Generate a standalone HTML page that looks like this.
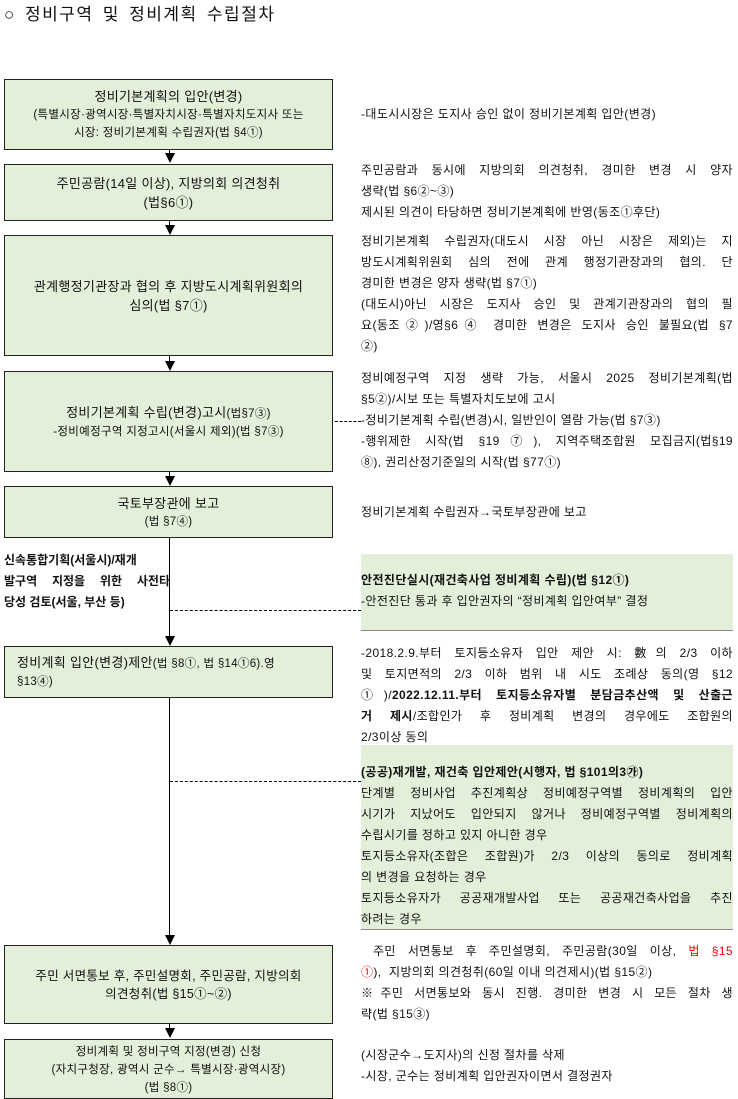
<!DOCTYPE html>
<html><head><meta charset="utf-8"><style>
body{margin:0;width:738px;height:1087px;background:#fff;position:relative;overflow:hidden;font-family:"Liberation Sans","Noto Sans CJK KR","NanumGothic",sans-serif;color:#111}
.b{position:absolute;left:4px;width:329px;background:#e3efd9;border:1.5px solid #222;display:flex;flex-direction:column;justify-content:center;align-items:center;text-align:center;font-size:13px;line-height:19px;box-sizing:border-box;letter-spacing:0.3px}
.s{font-size:11.5px;line-height:18px}
.r{position:absolute;left:361px;width:372px;font-size:12px;line-height:21px;letter-spacing:0.4px}
.r div{white-space:nowrap}
.r div.j{text-align:justify;text-align-last:justify}
.g{position:absolute;left:361px;width:372px;background:#e3efd9;border-bottom:1px solid #888}
.v{position:absolute;left:169px;width:1.3px;background:#000}
.a{position:absolute;width:0;height:0;border-left:5px solid transparent;border-right:5px solid transparent;border-top:10px solid #000;left:165px}
.d{position:absolute;border-top:1px dashed #000;height:0}
</style></head><body>
<div style="position:absolute;left:4px;top:2px;font-size:17px;line-height:26px;letter-spacing:1.5px;word-spacing:3px">○ 정비구역 및 정비계획 수립절차</div>

<div class="b" style="top:79px;height:71px"><div>정비기본계획의 입안(변경)</div><div class="s">(특별시장·광역시장·특별자치시장·특별자치도지사 또는<br>시장: 정비기본계획 수립권자(법 §4①)</div></div>
<div class="v" style="top:150px;height:6px"></div><div class="a" style="top:153px"></div>
<div class="b" style="top:164px;height:57px"><div>주민공람(14일 이상), 지방의회 의견청취<br>(법§6①)</div></div>
<div class="v" style="top:221px;height:6px"></div><div class="a" style="top:225px"></div>
<div class="b" style="top:235px;height:121px"><div>관계행정기관장과 협의 후 지방도시계획위원회의<br>심의(법 §7①)</div></div>
<div class="v" style="top:356px;height:6px"></div><div class="a" style="top:361px"></div>
<div class="b" style="top:371px;height:101px"><div>정비기본계획 수립(변경)고시<span class="s">(법§7③)</span></div><div class="s">-정비예정구역 지정고시(서울시 제외)(법 §7③)</div></div>
<div class="v" style="top:472px;height:6px"></div><div class="a" style="top:476px"></div>
<div class="b" style="top:486px;height:52px"><div>국토부장관에 보고</div><div class="s">(법 §7④)</div></div>
<div class="v" style="top:538px;height:100px"></div><div class="a" style="top:636px"></div>
<div class="b" style="top:646px;height:52px;align-items:flex-start;text-align:left;padding-left:12px"><div>정비계획 입안(변경)제안<span class="s">(법 §8①, 법 §14①6).영</span></div><div class="s">§13④)</div></div>
<div class="v" style="top:698px;height:237px"></div><div class="a" style="top:935px"></div>
<div class="b" style="top:945px;height:79px"><div class="s" style="font-size:12.5px">주민 서면통보 후, 주민설명회, 주민공람, 지방의회<br>의견청취(법 §15①~②)</div></div>
<div class="v" style="top:1024px;height:6px"></div><div class="a" style="top:1028px"></div>
<div class="b" style="top:1039px;height:60px;justify-content:flex-start;padding-top:3px"><div class="s">정비계획 및 정비구역 지정(변경) 신청<br>(자치구청장, 광역시 군수→ 특별시장·광역시장)<br>(법 §8①)</div></div>

<div style="position:absolute;left:4px;top:550px;width:166px;font-size:12px;line-height:21px;font-weight:bold"><div style="text-align:justify;text-align-last:justify">신속통합기획(서울시)/재개</div><div style="text-align:justify;text-align-last:justify">발구역 지정을 위한 사전타</div><div>당성 검토(서울, 부산 등)</div></div>

<div class="d" style="left:335px;width:26px;top:421px"></div>
<div class="d" style="left:170px;width:191px;top:610px"></div>
<div class="d" style="left:170px;width:191px;top:781px"></div>

<div class="r" style="top:104px">-대도시시장은 도지사 승인 없이 정비기본계획 입안(변경)</div>
<div class="r" style="top:160px"><div class="j">주민공람과 동시에 지방의회 의견청취, 경미한 변경 시 양자</div><div>생략(법 §6②~③)</div><div>제시된 의견이 타당하면 정비기본계획에 반영(동조①후단)</div></div>
<div class="r" style="top:231px"><div class="j">정비기본계획 수립권자(대도시 시장 아닌 시장은 제외)는 지</div><div class="j">방도시계획위원회 심의 전에 관계 행정기관장과의 협의. 단</div><div>경미한 변경은 양자 생략(법 §7①)</div><div class="j">(대도시)아닌 시장은 도지사 승인 및 관계기관장과의 협의 필</div><div class="j">요(동조②)/영§6④ 경미한 변경은 도지사 승인 불필요(법 §7</div><div>②)</div></div>
<div class="r" style="top:368px"><div class="j">정비예정구역 지정 생략 가능, 서울시 2025 정비기본계획(법</div><div>§5②)/시보 또는 특별자치도보에 고시</div><div>-정비기본계획 수립(변경)시, 일반인이 열람 가능(법 §7③)</div><div class="j">-행위제한 시작(법 §19⑦), 지역주택조합원 모집금지(법§19</div><div>⑧), 권리산정기준일의 시작(법 §77①)</div></div>
<div class="r" style="top:502px">정비기본계획 수립권자→국토부장관에 보고</div>

<div class="g" style="top:554px;height:76px"></div>
<div class="r" style="top:570px"><div style="font-weight:bold">안전진단실시(재건축사업 정비계획 수립)(법 §12①)</div><div>-안전진단 통과 후 입안권자의 “정비계획 입안여부” 결정</div></div>

<div class="r" style="top:643px"><div class="j">-2018.2.9.부터 토지등소유자 입안 제안 시: 數의 2/3 이하</div><div class="j">및 토지면적의 2/3 이하 범위 내 시도 조례상 동의(영 §12</div><div class="j">①)/<b>2022.12.11.부터 토지등소유자별 분담금추산액 및 산출근</b></div><div class="j"><b>거 제시</b>/조합인가 후 정비계획 변경의 경우에도 조합원의</div><div>2/3이상 동의</div></div>

<div class="g" style="top:745px;height:184px"></div>
<div class="r" style="top:762px"><div style="font-weight:bold">(공공)재개발, 재건축 입안제안(시행자, 법 §101의3㉮)</div><div class="j">단계별 정비사업 추진계획상 정비예정구역별 정비계획의 입안</div><div class="j">시기가 지났어도 입안되지 않거나 정비예정구역별 정비계획의</div><div>수립시기를 정하고 있지 아니한 경우</div><div class="j">토지등소유자(조합은 조합원)가 2/3 이상의 동의로 정비계획</div><div>의 변경을 요청하는 경우</div><div class="j">토지등소유자가 공공재개발사업 또는 공공재건축사업을 추진</div><div>하려는 경우</div></div>

<div class="r" style="top:941px"><div class="j">&nbsp;주민 서면통보 후 주민설명회, 주민공람(30일 이상, <span style="color:#e00">법 §15</span></div><div><span style="color:#e00">①</span>), &nbsp;지방의회 의견청취(60일 이내 의견제시)(법 §15②)</div><div class="j">※주민 서면통보와 동시 진행. 경미한 변경 시 모든 절차 생</div><div>략(법 §15③)</div></div>

<div class="r" style="top:1045px"><div>(시장군수→도지사)의 신정 절차를 삭제</div><div>-시장, 군수는 정비계획 입안권자이면서 결정권자</div></div>
</body></html>
